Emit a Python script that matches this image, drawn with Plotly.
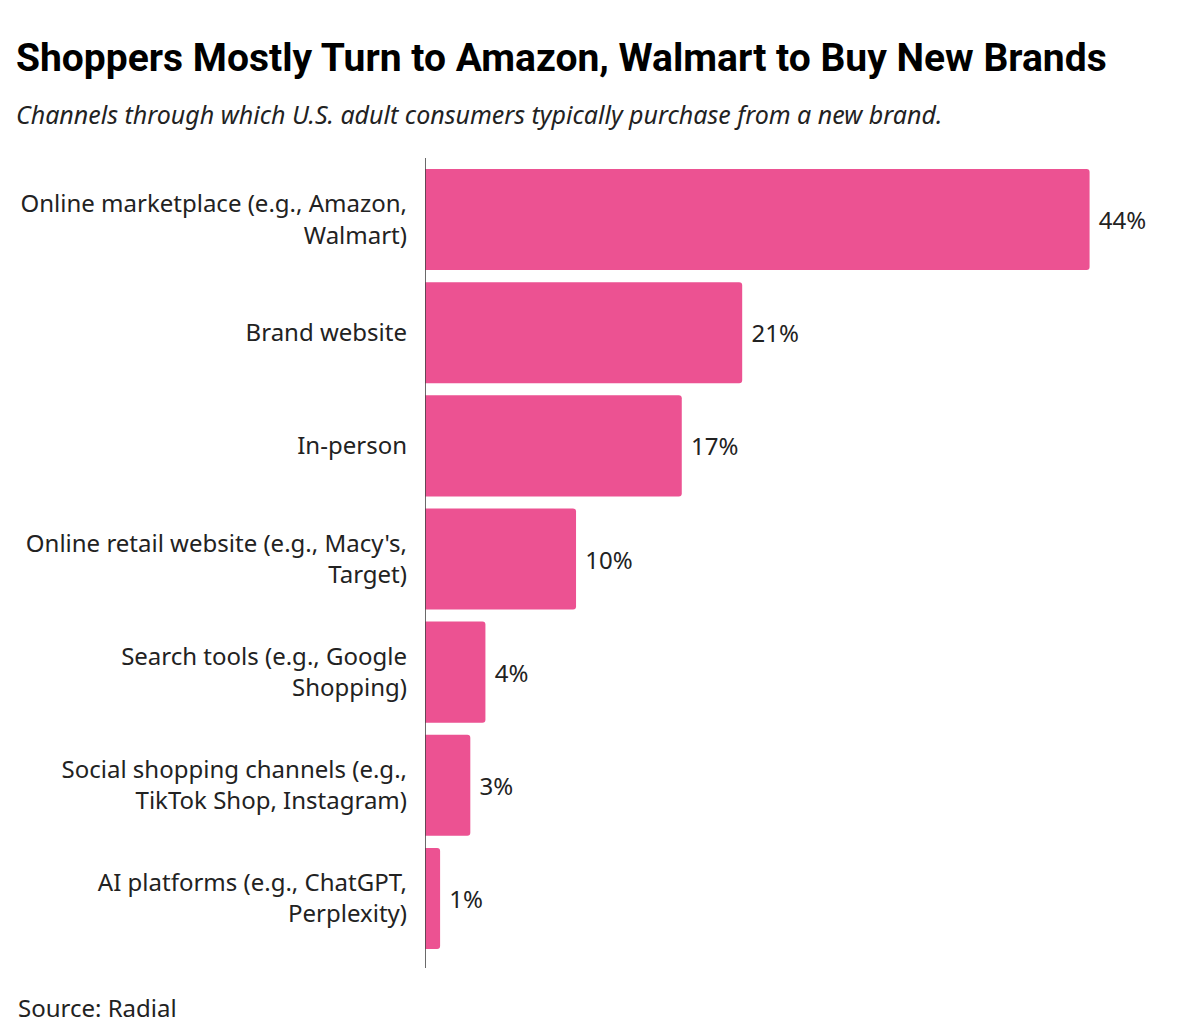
import plotly.graph_objects as go

canales = [
    "Online marketplace (e.g., Amazon,<br>Walmart)",
    "Brand website",
    "In-person",
    "Online retail website (e.g., Macy's,<br>Target)",
    "Search tools (e.g., Google<br>Shopping)",
    "Social shopping channels (e.g.,<br>TikTok Shop, Instagram)",
    "AI platforms (e.g., ChatGPT,<br>Perplexity)",
]
porcentajes = [44, 21, 17, 10, 4, 3, 1]
etiquetas = [f" {p}%" for p in porcentajes]

# la pagina tiene un margen de 8px, se compensa restando 8 a todo
OFF = 8
W, H = 1200 - OFF, 1025 - OFF
ROSA = "#EC5292"
FUENTE = "Noto Sans, Lato, sans-serif"


def px_x(x):
    return (x - OFF) / W


def px_y(y):
    return 1 - (y - OFF) / H


fig = go.Figure(go.Bar(
    x=porcentajes, y=canales, orientation="h",
    marker=dict(color=ROSA, cornerradius=3, line=dict(width=0)),
    text=etiquetas, textposition="outside", cliponaxis=False,
    textfont=dict(family=FUENTE, size=24, color="#222"),
))

fig.update_layout(
    width=W, height=H,
    paper_bgcolor="white", plot_bgcolor="white",
    margin=dict(l=0, r=0, t=0, b=0),
    showlegend=False,
    bargap=0.107,
    xaxis=dict(domain=[px_x(425), px_x(1150)], range=[0, 48],
               showgrid=False, showticklabels=False, zeroline=False, showline=False),
    yaxis=dict(domain=[px_y(955), px_y(163)], autorange="reversed",
               showgrid=False, showline=False,
               ticks="", ticklabelstandoff=17,
               tickfont=dict(family=FUENTE, size=24, color="#222")),
    font=dict(family=FUENTE),
)

# linea del eje, mas larga que la zona de barras
fig.add_shape(type="line", xref="x", yref="paper", x0=0, x1=0,
              y0=px_y(968), y1=px_y(158), line=dict(color="#444", width=1.6))

fig.add_annotation(
    text="<b>Shoppers Mostly Turn to Amazon, Walmart to Buy New Brands</b>",
    xref="paper", yref="paper", x=px_x(14), y=px_y(33), xanchor="left", yanchor="top",
    showarrow=False,
    font=dict(family="Roboto, Liberation Sans, sans-serif", size=39, weight=900, color="#000"),
)
fig.add_annotation(
    text="<i>Channels through which U.S. adult consumers typically purchase from a new brand.</i>",
    xref="paper", yref="paper", x=px_x(14), y=px_y(95), xanchor="left", yanchor="top",
    showarrow=False,
    font=dict(family=FUENTE, size=25, color="#222"),
)
fig.add_annotation(
    text="Source: Radial",
    xref="paper", yref="paper", x=px_x(16), y=px_y(989), xanchor="left", yanchor="top",
    showarrow=False,
    font=dict(family=FUENTE, size=24, color="#222"),
)

fig.write_html("out.html")
